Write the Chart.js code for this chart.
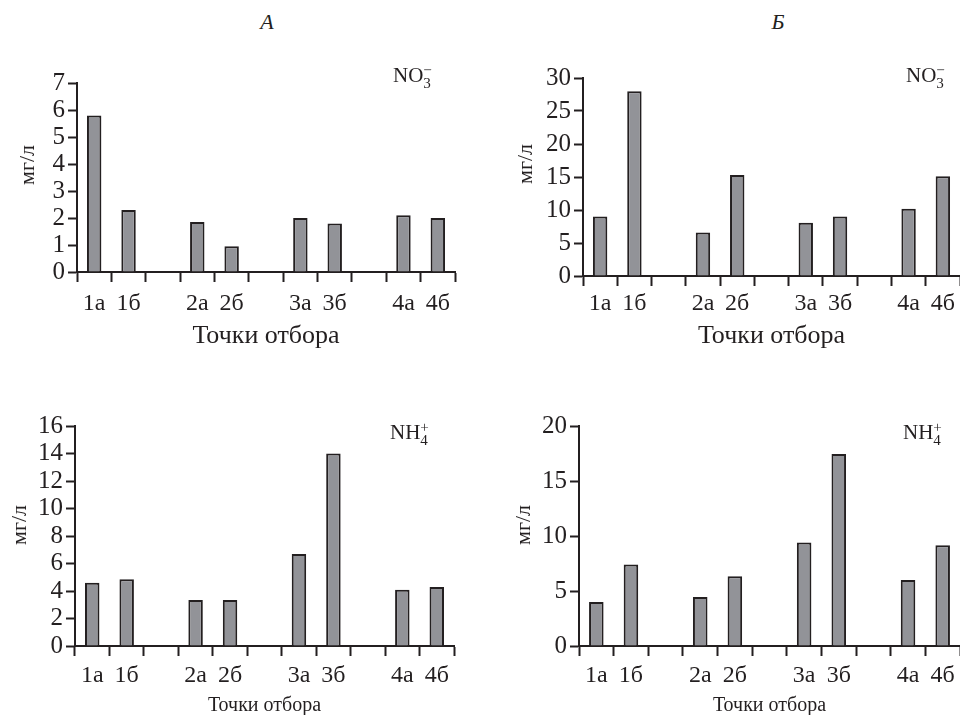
<!DOCTYPE html>
<html>
<head>
<meta charset="utf-8">
<script src="https://cdn.jsdelivr.net/npm/chart.js@4.4.1/dist/chart.umd.min.js"></script>
<style>
  body { margin: 0; background: #fff; }
  #page { position: relative; width: 960px; height: 715px; overflow: hidden; font-family: "Liberation Serif", "Times New Roman", serif; color: #231f20; }
  canvas { position: absolute; }
  .head { position: absolute; width: 100px; text-align: center; font-style: italic; font-size: 22px; line-height: 1; top: 11px; }
  .ion { position: absolute; font-size: 21px; line-height: 1; }
  .ss { display: inline-block; vertical-align: -0.42em; font-size: 0.72em; line-height: 0.85; }
  .ss span { display: block; }
  .ytitle { position: absolute; font-size: 22px; line-height: 1; white-space: nowrap; transform: translate(-50%, -50%) rotate(-90deg); }
</style>
</head>
<body>
<div id="page">
  <div class="head" style="left:217px">А</div>
  <div class="head" style="left:728px">Б</div>

  <canvas id="c1" width="480" height="300" style="left:0;top:60px"></canvas>
  <canvas id="c2" width="480" height="300" style="left:480px;top:60px"></canvas>
  <canvas id="c3" width="480" height="315" style="left:0;top:400px"></canvas>
  <canvas id="c4" width="480" height="315" style="left:480px;top:400px"></canvas>

  <div class="ytitle" style="left:27px;top:165px">мг/л</div>
  <div class="ytitle" style="left:525px;top:164px">мг/л</div>
  <div class="ytitle" style="left:19px;top:525px">мг/л</div>
  <div class="ytitle" style="left:523px;top:525px">мг/л</div>

  <div class="ion" style="left:393px;top:64px">NO<span class="ss"><span>−</span><span>3</span></span></div>
  <div class="ion" style="left:906px;top:64px">NO<span class="ss"><span>−</span><span>3</span></span></div>
  <div class="ion" style="left:390px;top:421px">NH<span class="ss"><span>+</span><span>4</span></span></div>
  <div class="ion" style="left:903px;top:421px">NH<span class="ss"><span>+</span><span>4</span></span></div>
</div>
<script>
// точки отбора (пустые позиции - промежутки между группами)
const categories = ['1а', '1б', '', '2а', '2б', '', '3а', '3б', '', '4а', '4б'];

// A
const no3A = [5.8, 2.3, null, 1.85, 0.95, null, 2.0, 1.8, null, 2.1, 2.0];
const nh4A = [4.6, 4.85, null, 3.35, 3.35, null, 6.7, 14.0, null, 4.1, 4.3];
// Б
const no3B = [9.0, 28.0, null, 6.6, 15.3, null, 8.05, 9.0, null, 10.2, 15.1];
const nh4B = [4.0, 7.4, null, 4.45, 6.35, null, 9.4, 17.45, null, 6.0, 9.15];

// шкалы y: [max, шаг]
const yNo3A = [7, 1];
const yNo3B = [30, 5];
const yNh4A = [16, 2];
const yNh4B = [20, 5];

const ink = '#231f20';
const serif = '"Liberation Serif", "Times New Roman", serif';

function makeChart(id, values, yScale, p) {
  return new Chart(document.getElementById(id), {
    type: 'bar',
    data: {
      labels: categories,
      datasets: [{
        data: values,
        backgroundColor: '#929398',
        borderColor: ink,
        borderWidth: 2,
        barPercentage: 0.42,
        categoryPercentage: 1
      }]
    },
    options: {
      responsive: false,
      animation: false,
      layout: { padding: { left: 0, top: p.top, right: p.right, bottom: 0 } },
      plugins: { legend: { display: false }, tooltip: { enabled: false } },
      scales: {
        x: {
          grid: { drawOnChartArea: false, offset: true, tickLength: 10, tickWidth: 2, tickColor: ink },
          border: { color: ink, width: 2 },
          ticks: { autoSkip: false, maxRotation: 0, padding: p.tickPad, color: ink, font: { family: serif, size: 24 } },
          title: { display: true, text: 'Точки отбора', color: ink, font: { family: serif, size: p.xTitleSize }, padding: { top: 0, bottom: p.xTitlePad } },
          afterFit: s => { s.height = p.xHeight; }
        },
        y: {
          min: 0,
          max: yScale[0],
          grid: { drawOnChartArea: false, tickLength: 9, tickWidth: 2, tickColor: ink },
          border: { color: ink, width: 2 },
          ticks: { stepSize: yScale[1], autoSkip: false, padding: 3, color: ink, font: { family: serif, size: 25 } },
          afterFit: s => { s.width = p.yWidth; }
        }
      }
    }
  });
}

makeChart('c1', no3A, yNo3A, { top: 23, right: 25, xHeight: 88, yWidth: 77, tickPad: 7, xTitleSize: 26, xTitlePad: 8 });
makeChart('c2', no3B, yNo3B, { top: 13, right: 0, xHeight: 84, yWidth: 103, tickPad: 3, xTitleSize: 26, xTitlePad: 8 });
makeChart('c3', nh4A, yNh4A, { top: 26, right: 26, xHeight: 69, yWidth: 75, tickPad: 5, xTitleSize: 20, xTitlePad: -3 });
makeChart('c4', nh4B, yNh4B, { top: 26, right: 0, xHeight: 69, yWidth: 99, tickPad: 5, xTitleSize: 20, xTitlePad: -3 });
</script>
</body>
</html>
